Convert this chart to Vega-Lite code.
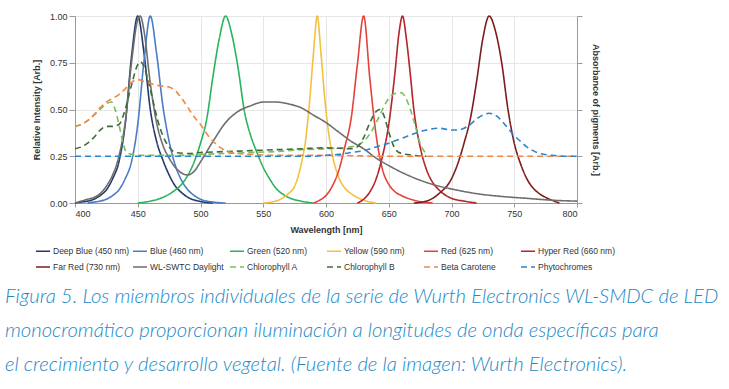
{
"$schema": "https://vega.github.io/schema/vega-lite/v6.json",
"width": 502, "height": 187,
"autosize": {"type": "none"},
"padding": {"left": 75, "top": 16, "right": 152, "bottom": 186},
"background": "white",
"config": {
  "view": {"stroke": null},
  "font": "Liberation Sans, Arial",
  "axis": {"domainColor": "#9a9a9a", "tickColor": "#9a9a9a", "gridColor": "#e6e6e6", "labelColor": "#333333", "titleColor": "#333333", "labelFontSize": 9, "titleFontSize": 9, "titleFontWeight": "bold", "labelFont": "Liberation Sans, Arial", "titleFont": "Liberation Sans, Arial"},
  "legend": {"orient": "none", "legendX": -40, "legendY": 227, "direction": "horizontal", "columns": 6, "symbolType": "stroke", "symbolSize": 196, "symbolStrokeWidth": 1.6, "labelFontSize": 8.5, "labelColor": "#333333", "labelOffset": 2, "columnPadding": -2, "rowPadding": 3, "gridAlign": "all", "labelFont": "Liberation Sans, Arial"}
},
"title": {
  "text": ["Figura 5. Los miembros individuales de la serie de Wurth Electronics WL-SMDC de LED", "monocromático proporcionan iluminación a longitudes de onda específicas para", "el crecimiento y desarrollo vegetal. (Fuente de la imagen: Wurth Electronics)."],
  "orient": "bottom", "anchor": "start", "frame": "group", "dx": -70, "offset": 15,
  "font": "Lato", "fontStyle": "italic", "fontWeight": 300, "fontSize": 20.3, "lineHeight": 34, "color": "#2389c6"
},
"data": {"values": [
{"s":"Deep Blue (450 nm)","x":400,"y":0},{"s":"Deep Blue (450 nm)","x":405,"y":0.005},{"s":"Deep Blue (450 nm)","x":410,"y":0.01},{"s":"Deep Blue (450 nm)","x":415,"y":0.02},{"s":"Deep Blue (450 nm)","x":420,"y":0.04},{"s":"Deep Blue (450 nm)","x":425,"y":0.07},{"s":"Deep Blue (450 nm)","x":430,"y":0.13},{"s":"Deep Blue (450 nm)","x":435,"y":0.22},{"s":"Deep Blue (450 nm)","x":440,"y":0.42},{"s":"Deep Blue (450 nm)","x":445,"y":0.78},{"s":"Deep Blue (450 nm)","x":450,"y":1},{"s":"Deep Blue (450 nm)","x":455,"y":0.8},{"s":"Deep Blue (450 nm)","x":460,"y":0.5},{"s":"Deep Blue (450 nm)","x":465,"y":0.33},{"s":"Deep Blue (450 nm)","x":470,"y":0.23},{"s":"Deep Blue (450 nm)","x":475,"y":0.15},{"s":"Deep Blue (450 nm)","x":480,"y":0.09},{"s":"Deep Blue (450 nm)","x":485,"y":0.055},{"s":"Deep Blue (450 nm)","x":490,"y":0.03},{"s":"Deep Blue (450 nm)","x":500,"y":0.008},{"s":"Deep Blue (450 nm)","x":510,"y":0},
{"s":"Blue (460 nm)","x":410,"y":0},{"s":"Blue (460 nm)","x":415,"y":0.005},{"s":"Blue (460 nm)","x":420,"y":0.01},{"s":"Blue (460 nm)","x":425,"y":0.02},{"s":"Blue (460 nm)","x":430,"y":0.04},{"s":"Blue (460 nm)","x":435,"y":0.07},{"s":"Blue (460 nm)","x":440,"y":0.13},{"s":"Blue (460 nm)","x":445,"y":0.22},{"s":"Blue (460 nm)","x":450,"y":0.42},{"s":"Blue (460 nm)","x":455,"y":0.76},{"s":"Blue (460 nm)","x":460,"y":1},{"s":"Blue (460 nm)","x":465,"y":0.8},{"s":"Blue (460 nm)","x":470,"y":0.52},{"s":"Blue (460 nm)","x":475,"y":0.33},{"s":"Blue (460 nm)","x":480,"y":0.2},{"s":"Blue (460 nm)","x":485,"y":0.12},{"s":"Blue (460 nm)","x":490,"y":0.07},{"s":"Blue (460 nm)","x":495,"y":0.04},{"s":"Blue (460 nm)","x":500,"y":0.02},{"s":"Blue (460 nm)","x":510,"y":0.005},{"s":"Blue (460 nm)","x":520,"y":0},
{"s":"Green (520 nm)","x":450,"y":0},{"s":"Green (520 nm)","x":460,"y":0.01},{"s":"Green (520 nm)","x":470,"y":0.03},{"s":"Green (520 nm)","x":480,"y":0.07},{"s":"Green (520 nm)","x":485,"y":0.1},{"s":"Green (520 nm)","x":490,"y":0.15},{"s":"Green (520 nm)","x":495,"y":0.22},{"s":"Green (520 nm)","x":500,"y":0.32},{"s":"Green (520 nm)","x":505,"y":0.45},{"s":"Green (520 nm)","x":510,"y":0.68},{"s":"Green (520 nm)","x":515,"y":0.88},{"s":"Green (520 nm)","x":520,"y":1},{"s":"Green (520 nm)","x":525,"y":0.9},{"s":"Green (520 nm)","x":530,"y":0.72},{"s":"Green (520 nm)","x":535,"y":0.49},{"s":"Green (520 nm)","x":540,"y":0.36},{"s":"Green (520 nm)","x":545,"y":0.27},{"s":"Green (520 nm)","x":550,"y":0.19},{"s":"Green (520 nm)","x":555,"y":0.13},{"s":"Green (520 nm)","x":560,"y":0.08},{"s":"Green (520 nm)","x":565,"y":0.05},{"s":"Green (520 nm)","x":570,"y":0.03},{"s":"Green (520 nm)","x":580,"y":0.01},{"s":"Green (520 nm)","x":590,"y":0},
{"s":"Yellow (590 nm)","x":550,"y":0},{"s":"Yellow (590 nm)","x":560,"y":0.01},{"s":"Yellow (590 nm)","x":565,"y":0.025},{"s":"Yellow (590 nm)","x":570,"y":0.05},{"s":"Yellow (590 nm)","x":575,"y":0.09},{"s":"Yellow (590 nm)","x":580,"y":0.2},{"s":"Yellow (590 nm)","x":584,"y":0.35},{"s":"Yellow (590 nm)","x":587,"y":0.55},{"s":"Yellow (590 nm)","x":590,"y":0.8},{"s":"Yellow (590 nm)","x":593,"y":1},{"s":"Yellow (590 nm)","x":596,"y":0.8},{"s":"Yellow (590 nm)","x":599,"y":0.56},{"s":"Yellow (590 nm)","x":602,"y":0.38},{"s":"Yellow (590 nm)","x":605,"y":0.26},{"s":"Yellow (590 nm)","x":610,"y":0.14},{"s":"Yellow (590 nm)","x":615,"y":0.08},{"s":"Yellow (590 nm)","x":620,"y":0.05},{"s":"Yellow (590 nm)","x":630,"y":0.015},{"s":"Yellow (590 nm)","x":640,"y":0},
{"s":"Red (625 nm)","x":590,"y":0},{"s":"Red (625 nm)","x":595,"y":0.015},{"s":"Red (625 nm)","x":600,"y":0.04},{"s":"Red (625 nm)","x":605,"y":0.09},{"s":"Red (625 nm)","x":610,"y":0.17},{"s":"Red (625 nm)","x":615,"y":0.3},{"s":"Red (625 nm)","x":620,"y":0.45},{"s":"Red (625 nm)","x":625,"y":0.74},{"s":"Red (625 nm)","x":630,"y":1},{"s":"Red (625 nm)","x":635,"y":0.66},{"s":"Red (625 nm)","x":640,"y":0.36},{"s":"Red (625 nm)","x":645,"y":0.18},{"s":"Red (625 nm)","x":650,"y":0.1},{"s":"Red (625 nm)","x":655,"y":0.06},{"s":"Red (625 nm)","x":660,"y":0.04},{"s":"Red (625 nm)","x":670,"y":0.015},{"s":"Red (625 nm)","x":685,"y":0},
{"s":"Hyper Red (660 nm)","x":625,"y":0},{"s":"Hyper Red (660 nm)","x":630,"y":0.02},{"s":"Hyper Red (660 nm)","x":635,"y":0.06},{"s":"Hyper Red (660 nm)","x":640,"y":0.13},{"s":"Hyper Red (660 nm)","x":645,"y":0.25},{"s":"Hyper Red (660 nm)","x":650,"y":0.42},{"s":"Hyper Red (660 nm)","x":655,"y":0.7},{"s":"Hyper Red (660 nm)","x":658,"y":0.9},{"s":"Hyper Red (660 nm)","x":661,"y":1},{"s":"Hyper Red (660 nm)","x":664,"y":0.88},{"s":"Hyper Red (660 nm)","x":667,"y":0.7},{"s":"Hyper Red (660 nm)","x":670,"y":0.5},{"s":"Hyper Red (660 nm)","x":675,"y":0.3},{"s":"Hyper Red (660 nm)","x":680,"y":0.18},{"s":"Hyper Red (660 nm)","x":685,"y":0.11},{"s":"Hyper Red (660 nm)","x":690,"y":0.07},{"s":"Hyper Red (660 nm)","x":700,"y":0.025},{"s":"Hyper Red (660 nm)","x":710,"y":0.01},{"s":"Hyper Red (660 nm)","x":720,"y":0},
{"s":"Far Red (730 nm)","x":670,"y":0},{"s":"Far Red (730 nm)","x":680,"y":0.01},{"s":"Far Red (730 nm)","x":690,"y":0.05},{"s":"Far Red (730 nm)","x":700,"y":0.13},{"s":"Far Red (730 nm)","x":705,"y":0.21},{"s":"Far Red (730 nm)","x":710,"y":0.32},{"s":"Far Red (730 nm)","x":715,"y":0.45},{"s":"Far Red (730 nm)","x":720,"y":0.65},{"s":"Far Red (730 nm)","x":725,"y":0.88},{"s":"Far Red (730 nm)","x":730,"y":1},{"s":"Far Red (730 nm)","x":735,"y":0.92},{"s":"Far Red (730 nm)","x":740,"y":0.75},{"s":"Far Red (730 nm)","x":745,"y":0.5},{"s":"Far Red (730 nm)","x":750,"y":0.32},{"s":"Far Red (730 nm)","x":755,"y":0.21},{"s":"Far Red (730 nm)","x":760,"y":0.13},{"s":"Far Red (730 nm)","x":765,"y":0.08},{"s":"Far Red (730 nm)","x":770,"y":0.05},{"s":"Far Red (730 nm)","x":775,"y":0.03},{"s":"Far Red (730 nm)","x":780,"y":0.015},{"s":"Far Red (730 nm)","x":786,"y":0},
{"s":"WL-SWTC Daylight","x":400,"y":0},{"s":"WL-SWTC Daylight","x":405,"y":0.01},{"s":"WL-SWTC Daylight","x":410,"y":0.02},{"s":"WL-SWTC Daylight","x":415,"y":0.03},{"s":"WL-SWTC Daylight","x":420,"y":0.05},{"s":"WL-SWTC Daylight","x":425,"y":0.09},{"s":"WL-SWTC Daylight","x":430,"y":0.15},{"s":"WL-SWTC Daylight","x":435,"y":0.25},{"s":"WL-SWTC Daylight","x":440,"y":0.43},{"s":"WL-SWTC Daylight","x":445,"y":0.75},{"s":"WL-SWTC Daylight","x":450,"y":0.98},{"s":"WL-SWTC Daylight","x":452,"y":1},{"s":"WL-SWTC Daylight","x":455,"y":0.92},{"s":"WL-SWTC Daylight","x":460,"y":0.64},{"s":"WL-SWTC Daylight","x":465,"y":0.43},{"s":"WL-SWTC Daylight","x":470,"y":0.31},{"s":"WL-SWTC Daylight","x":475,"y":0.24},{"s":"WL-SWTC Daylight","x":480,"y":0.19},{"s":"WL-SWTC Daylight","x":485,"y":0.16},{"s":"WL-SWTC Daylight","x":490,"y":0.15},{"s":"WL-SWTC Daylight","x":495,"y":0.17},{"s":"WL-SWTC Daylight","x":500,"y":0.22},{"s":"WL-SWTC Daylight","x":510,"y":0.33},{"s":"WL-SWTC Daylight","x":520,"y":0.43},{"s":"WL-SWTC Daylight","x":530,"y":0.49},{"s":"WL-SWTC Daylight","x":540,"y":0.52},{"s":"WL-SWTC Daylight","x":550,"y":0.54},{"s":"WL-SWTC Daylight","x":560,"y":0.54},{"s":"WL-SWTC Daylight","x":570,"y":0.53},{"s":"WL-SWTC Daylight","x":580,"y":0.51},{"s":"WL-SWTC Daylight","x":590,"y":0.47},{"s":"WL-SWTC Daylight","x":600,"y":0.43},{"s":"WL-SWTC Daylight","x":610,"y":0.38},{"s":"WL-SWTC Daylight","x":620,"y":0.33},{"s":"WL-SWTC Daylight","x":630,"y":0.29},{"s":"WL-SWTC Daylight","x":640,"y":0.24},{"s":"WL-SWTC Daylight","x":650,"y":0.2},{"s":"WL-SWTC Daylight","x":660,"y":0.165},{"s":"WL-SWTC Daylight","x":670,"y":0.135},{"s":"WL-SWTC Daylight","x":680,"y":0.11},{"s":"WL-SWTC Daylight","x":690,"y":0.09},{"s":"WL-SWTC Daylight","x":700,"y":0.075},{"s":"WL-SWTC Daylight","x":720,"y":0.05},{"s":"WL-SWTC Daylight","x":740,"y":0.035},{"s":"WL-SWTC Daylight","x":760,"y":0.025},{"s":"WL-SWTC Daylight","x":780,"y":0.015},{"s":"WL-SWTC Daylight","x":800,"y":0.01},
{"s":"Chlorophyll A","x":400,"y":0.41},{"s":"Chlorophyll A","x":405,"y":0.42},{"s":"Chlorophyll A","x":410,"y":0.44},{"s":"Chlorophyll A","x":415,"y":0.47},{"s":"Chlorophyll A","x":420,"y":0.5},{"s":"Chlorophyll A","x":425,"y":0.53},{"s":"Chlorophyll A","x":429,"y":0.54},{"s":"Chlorophyll A","x":432,"y":0.5},{"s":"Chlorophyll A","x":435,"y":0.42},{"s":"Chlorophyll A","x":438,"y":0.33},{"s":"Chlorophyll A","x":441,"y":0.27},{"s":"Chlorophyll A","x":445,"y":0.26},{"s":"Chlorophyll A","x":450,"y":0.255},{"s":"Chlorophyll A","x":480,"y":0.255},{"s":"Chlorophyll A","x":500,"y":0.26},{"s":"Chlorophyll A","x":520,"y":0.265},{"s":"Chlorophyll A","x":540,"y":0.27},{"s":"Chlorophyll A","x":560,"y":0.275},{"s":"Chlorophyll A","x":580,"y":0.285},{"s":"Chlorophyll A","x":600,"y":0.29},{"s":"Chlorophyll A","x":620,"y":0.3},{"s":"Chlorophyll A","x":630,"y":0.33},{"s":"Chlorophyll A","x":635,"y":0.37},{"s":"Chlorophyll A","x":640,"y":0.43},{"s":"Chlorophyll A","x":645,"y":0.5},{"s":"Chlorophyll A","x":650,"y":0.56},{"s":"Chlorophyll A","x":655,"y":0.585},{"s":"Chlorophyll A","x":660,"y":0.59},{"s":"Chlorophyll A","x":665,"y":0.54},{"s":"Chlorophyll A","x":670,"y":0.44},{"s":"Chlorophyll A","x":675,"y":0.32},{"s":"Chlorophyll A","x":680,"y":0.26},
{"s":"Chlorophyll B","x":400,"y":0.29},{"s":"Chlorophyll B","x":405,"y":0.3},{"s":"Chlorophyll B","x":410,"y":0.32},{"s":"Chlorophyll B","x":415,"y":0.35},{"s":"Chlorophyll B","x":420,"y":0.39},{"s":"Chlorophyll B","x":425,"y":0.41},{"s":"Chlorophyll B","x":430,"y":0.41},{"s":"Chlorophyll B","x":435,"y":0.42},{"s":"Chlorophyll B","x":440,"y":0.5},{"s":"Chlorophyll B","x":445,"y":0.63},{"s":"Chlorophyll B","x":450,"y":0.74},{"s":"Chlorophyll B","x":452,"y":0.755},{"s":"Chlorophyll B","x":455,"y":0.73},{"s":"Chlorophyll B","x":458,"y":0.66},{"s":"Chlorophyll B","x":462,"y":0.55},{"s":"Chlorophyll B","x":466,"y":0.44},{"s":"Chlorophyll B","x":470,"y":0.36},{"s":"Chlorophyll B","x":475,"y":0.3},{"s":"Chlorophyll B","x":480,"y":0.27},{"s":"Chlorophyll B","x":490,"y":0.265},{"s":"Chlorophyll B","x":500,"y":0.27},{"s":"Chlorophyll B","x":520,"y":0.275},{"s":"Chlorophyll B","x":540,"y":0.28},{"s":"Chlorophyll B","x":560,"y":0.285},{"s":"Chlorophyll B","x":580,"y":0.29},{"s":"Chlorophyll B","x":600,"y":0.295},{"s":"Chlorophyll B","x":620,"y":0.29},{"s":"Chlorophyll B","x":625,"y":0.3},{"s":"Chlorophyll B","x":630,"y":0.35},{"s":"Chlorophyll B","x":635,"y":0.43},{"s":"Chlorophyll B","x":640,"y":0.49},{"s":"Chlorophyll B","x":643,"y":0.5},{"s":"Chlorophyll B","x":646,"y":0.47},{"s":"Chlorophyll B","x":650,"y":0.38},{"s":"Chlorophyll B","x":655,"y":0.29},{"s":"Chlorophyll B","x":660,"y":0.265},{"s":"Chlorophyll B","x":670,"y":0.255},{"s":"Chlorophyll B","x":680,"y":0.25},
{"s":"Beta Carotene","x":400,"y":0.41},{"s":"Beta Carotene","x":405,"y":0.42},{"s":"Beta Carotene","x":410,"y":0.44},{"s":"Beta Carotene","x":415,"y":0.47},{"s":"Beta Carotene","x":420,"y":0.51},{"s":"Beta Carotene","x":425,"y":0.54},{"s":"Beta Carotene","x":430,"y":0.56},{"s":"Beta Carotene","x":435,"y":0.58},{"s":"Beta Carotene","x":440,"y":0.61},{"s":"Beta Carotene","x":445,"y":0.645},{"s":"Beta Carotene","x":450,"y":0.66},{"s":"Beta Carotene","x":455,"y":0.65},{"s":"Beta Carotene","x":460,"y":0.64},{"s":"Beta Carotene","x":465,"y":0.63},{"s":"Beta Carotene","x":470,"y":0.625},{"s":"Beta Carotene","x":475,"y":0.62},{"s":"Beta Carotene","x":480,"y":0.6},{"s":"Beta Carotene","x":485,"y":0.56},{"s":"Beta Carotene","x":490,"y":0.51},{"s":"Beta Carotene","x":495,"y":0.46},{"s":"Beta Carotene","x":500,"y":0.42},{"s":"Beta Carotene","x":505,"y":0.37},{"s":"Beta Carotene","x":510,"y":0.33},{"s":"Beta Carotene","x":515,"y":0.3},{"s":"Beta Carotene","x":520,"y":0.28},{"s":"Beta Carotene","x":530,"y":0.265},{"s":"Beta Carotene","x":540,"y":0.26},{"s":"Beta Carotene","x":560,"y":0.255},{"s":"Beta Carotene","x":600,"y":0.255},{"s":"Beta Carotene","x":650,"y":0.25},{"s":"Beta Carotene","x":700,"y":0.25},{"s":"Beta Carotene","x":750,"y":0.25},{"s":"Beta Carotene","x":800,"y":0.25},
{"s":"Phytochromes","x":400,"y":0.25},{"s":"Phytochromes","x":450,"y":0.25},{"s":"Phytochromes","x":500,"y":0.25},{"s":"Phytochromes","x":550,"y":0.25},{"s":"Phytochromes","x":590,"y":0.25},{"s":"Phytochromes","x":600,"y":0.255},{"s":"Phytochromes","x":610,"y":0.26},{"s":"Phytochromes","x":620,"y":0.27},{"s":"Phytochromes","x":630,"y":0.28},{"s":"Phytochromes","x":640,"y":0.3},{"s":"Phytochromes","x":650,"y":0.32},{"s":"Phytochromes","x":660,"y":0.345},{"s":"Phytochromes","x":670,"y":0.37},{"s":"Phytochromes","x":680,"y":0.39},{"s":"Phytochromes","x":690,"y":0.4},{"s":"Phytochromes","x":700,"y":0.39},{"s":"Phytochromes","x":705,"y":0.39},{"s":"Phytochromes","x":710,"y":0.4},{"s":"Phytochromes","x":715,"y":0.42},{"s":"Phytochromes","x":720,"y":0.45},{"s":"Phytochromes","x":725,"y":0.47},{"s":"Phytochromes","x":730,"y":0.48},{"s":"Phytochromes","x":735,"y":0.47},{"s":"Phytochromes","x":740,"y":0.44},{"s":"Phytochromes","x":745,"y":0.4},{"s":"Phytochromes","x":750,"y":0.36},{"s":"Phytochromes","x":755,"y":0.33},{"s":"Phytochromes","x":760,"y":0.3},{"s":"Phytochromes","x":765,"y":0.28},{"s":"Phytochromes","x":770,"y":0.265},{"s":"Phytochromes","x":780,"y":0.255},{"s":"Phytochromes","x":790,"y":0.25},{"s":"Phytochromes","x":800,"y":0.25}
]},
"layer": [
  {
    "mark": {"type": "line", "interpolate": "monotone", "strokeWidth": 1.6},
    "encoding": {
      "x": {"field": "x", "type": "quantitative", "scale": {"domain": [400, 800], "nice": false},
            "axis": {"values": [400,450,500,550,600,650,700,750,800], "title": "Wavelength [nm]", "grid": true, "tickSize": 4, "labelPadding": 2, "titlePadding": 7}},
      "y": {"field": "y", "type": "quantitative", "scale": {"domain": [0, 1], "nice": false},
            "axis": {"values": [0,0.25,0.5,0.75,1], "format": ".2f", "title": "Relative Intensity [Arb.]", "grid": true, "tickSize": 6, "labelPadding": 2, "titlePadding": 8}},
      "color": {"field": "s", "type": "nominal", "title": null,
        "scale": {"domain": ["Deep Blue (450 nm)","Blue (460 nm)","Green (520 nm)","Yellow (590 nm)","Red (625 nm)","Hyper Red (660 nm)","Far Red (730 nm)","WL-SWTC Daylight","Chlorophyll A","Chlorophyll B","Beta Carotene","Phytochromes"],
                  "range": ["#233a6b","#4a7cc7","#2bb35b","#f5c040","#e7403a","#b5232b","#7c1d1d","#6e6e6e","#79bf5c","#3f6c38","#ee8849","#2a86cc"]}},
      "strokeDash": {"field": "s", "type": "nominal", "title": null,
        "scale": {"domain": ["Deep Blue (450 nm)","Blue (460 nm)","Green (520 nm)","Yellow (590 nm)","Red (625 nm)","Hyper Red (660 nm)","Far Red (730 nm)","WL-SWTC Daylight","Chlorophyll A","Chlorophyll B","Beta Carotene","Phytochromes"],
                  "range": [[1,0],[1,0],[1,0],[1,0],[1,0],[1,0],[1,0],[1,0],[6,4],[6,4],[6,4],[6,4]]}}
    }
  },
  {
    "mark": {"type": "rule", "opacity": 0},
    "encoding": {
      "y": {"field": "y", "type": "quantitative", "scale": {"domain": [0, 1], "nice": false},
            "axis": {"orient": "right", "values": [0,0.25,0.5,0.75,1], "labels": false, "grid": false, "tickSize": 5, "title": "Absorbance of pigments [Arb.]", "titlePadding": 8}}
    }
  }
],
"resolve": {"scale": {"y": "independent"}}
}
